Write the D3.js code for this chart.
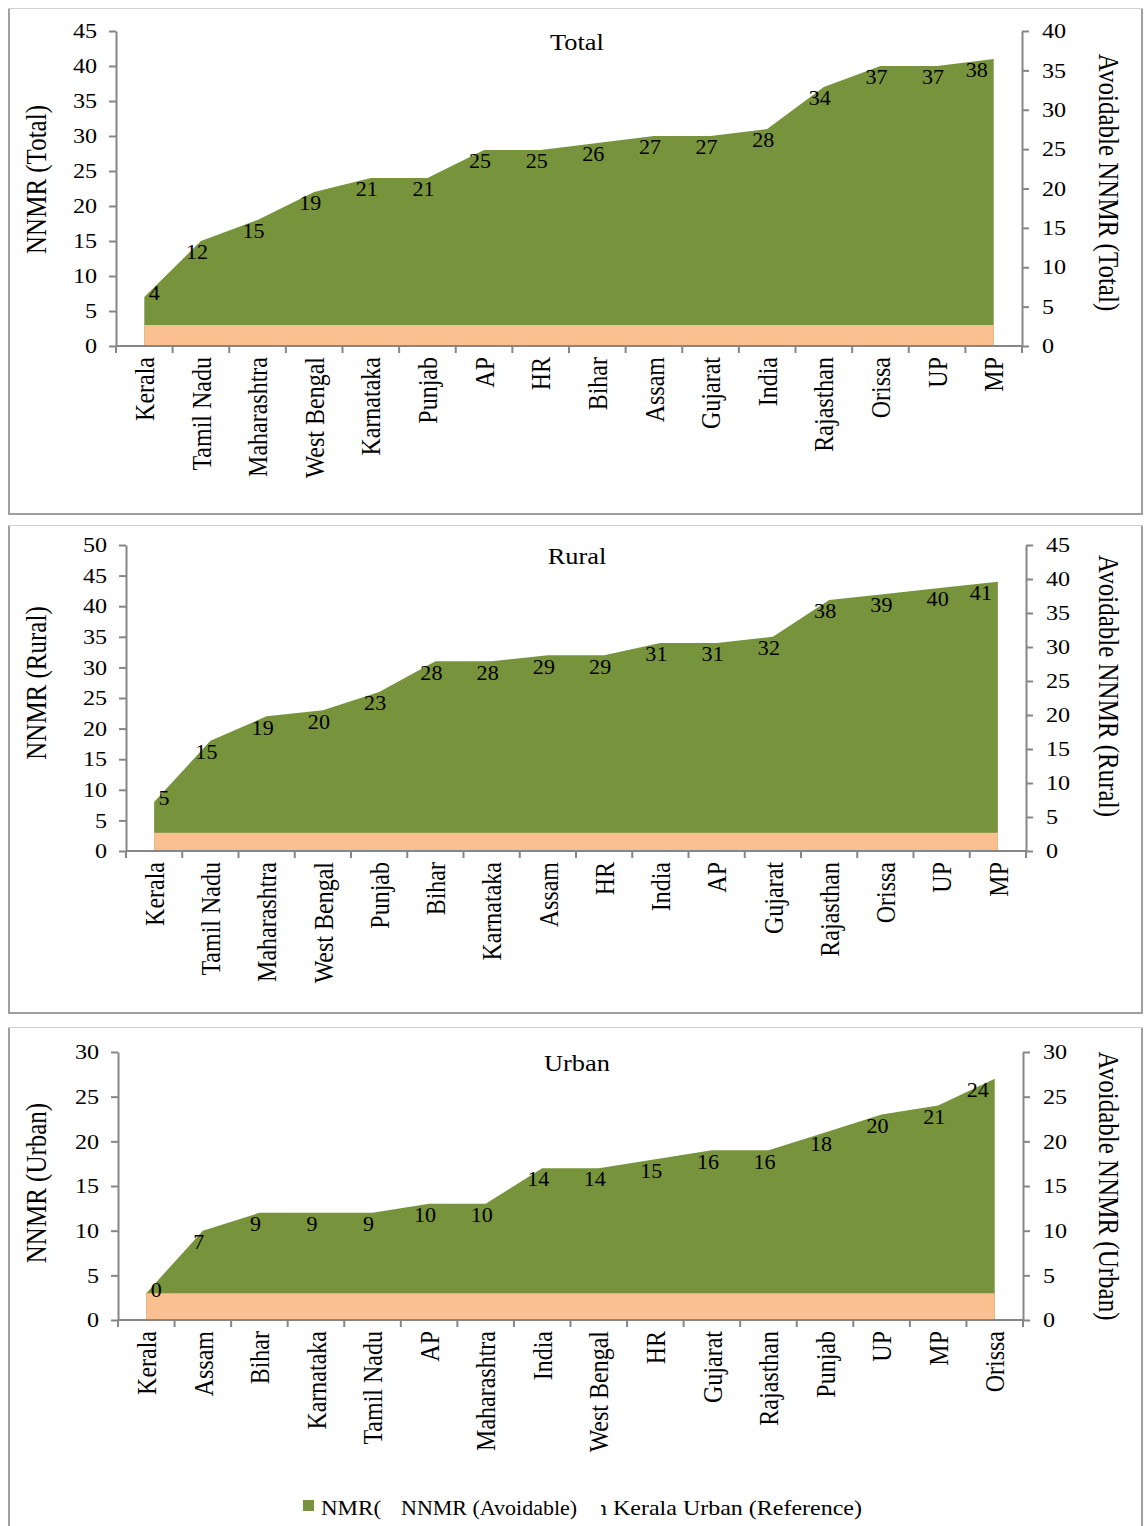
<!DOCTYPE html>
<html>
<head>
<meta charset="utf-8">
<script src="https://cdn.jsdelivr.net/npm/d3@7"></script>
<style>
  body { margin: 0; background: #fff; }
  text { font-family: "Liberation Serif", "Times New Roman", serif; fill: #000; }
</style>
</head>
<body>
<svg id="chart" width="1145" height="1526"></svg>
<script>
// Kerala urban neonatal mortality rate, used as the achievable reference level
const referenceNNMR = 3;

// Total
const totalStates = ["Kerala", "Tamil Nadu", "Maharashtra", "West Bengal", "Karnataka", "Punjab", "AP", "HR",
  "Bihar", "Assam", "Gujarat", "India", "Rajasthan", "Orissa", "UP", "MP"];
const totalAvoidable = [4, 12, 15, 19, 21, 21, 25, 25, 26, 27, 27, 28, 34, 37, 37, 38];

// Rural
const ruralStates = ["Kerala", "Tamil Nadu", "Maharashtra", "West Bengal", "Punjab", "Bihar", "Karnataka", "Assam",
  "HR", "India", "AP", "Gujarat", "Rajasthan", "Orissa", "UP", "MP"];
const ruralAvoidable = [5, 15, 19, 20, 23, 28, 28, 29, 29, 31, 31, 32, 38, 39, 40, 41];

// Urban
const urbanStates = ["Kerala", "Assam", "Bihar", "Karnataka", "Tamil Nadu", "AP", "Maharashtra", "India",
  "West Bengal", "HR", "Gujarat", "Rajasthan", "Punjab", "UP", "MP", "Orissa"];
const urbanAvoidable = [0, 7, 9, 9, 9, 10, 10, 14, 14, 15, 16, 16, 18, 20, 21, 24];

// Axis ranges
const totalLeftMax = 45, totalRightMax = 40;
const ruralLeftMax = 50, ruralRightMax = 45;
const urbanLeftMax = 30, urbanRightMax = 30;

const legendLabels = ["NMR(", "NNMR (Avoidable)", "NNMR in Kerala Urban (Reference)"];

const GREEN = "#77933C", PEACH = "#FAC090", AXIS = "#868686";
const SX = 1.15; // horizontal glyph stretch

const svg = d3.select("#chart");

function stretchedText(g, x, y, rot, txt, sx = SX) {
  return g.append("text")
    .attr("transform", `translate(${x},${y}) scale(${sx},1) rotate(${rot})`)
    .text(txt);
}

const panels = [
  { name: "Total", states: totalStates, avoid: totalAvoidable, lmax: totalLeftMax, rmax: totalRightMax,
    frame: [8, 8, 1134, 506], plot: { l: 116, r: 1022, t: 31, b: 346 }, titleShift: -9,
    leftTitle: "NNMR (Total)", rightTitle: "Avoidable NNMR (Total)" },
  { name: "Rural", states: ruralStates, avoid: ruralAvoidable, lmax: ruralLeftMax, rmax: ruralRightMax,
    frame: [8, 525, 1134, 488], plot: { l: 126, r: 1026, t: 545, b: 851 }, titleShift: -15,
    leftTitle: "NNMR (Rural)", rightTitle: "Avoidable NNMR (Rural)" },
  { name: "Urban", states: urbanStates, avoid: urbanAvoidable, lmax: urbanLeftMax, rmax: urbanRightMax,
    frame: [8, 1027, 1134, 520], plot: { l: 118, r: 1023, t: 1052, b: 1320 }, titleShift: -3,
    leftTitle: "NNMR (Urban)", rightTitle: "Avoidable NNMR (Urban)" }
];

panels.forEach(p => {
  const g = svg.append("g");
  const [fx, fy, fw, fh] = p.frame;
  // frame
  g.append("rect").attr("x", fx + 0.5).attr("y", fy + 0.5).attr("width", fw).attr("height", fh)
    .attr("fill", "#fff").attr("stroke", "#d0d0d0").attr("stroke-width", 1);
  g.append("path")
    .attr("d", `M${fx + 1},${fy + 1}V${fy + fh}H${fx + fw}V${fy + 1}`)
    .attr("fill", "none").attr("stroke", "#a0a0a0").attr("stroke-width", 2);

  const { l, r, t, b } = p.plot;
  const x = d3.scaleBand().domain(p.states).range([l, r]).padding(0);
  const yL = d3.scaleLinear().domain([0, p.lmax]).range([b, t]);
  const yR = d3.scaleLinear().domain([0, p.rmax]).range([b, t]);
  const cx = s => x(s) + x.bandwidth() / 2;

  const rows = p.states.map((s, i) => ({ state: s, avoid: p.avoid[i], nnmr: p.avoid[i] + referenceNNMR }));

  // NNMR area
  g.append("path").datum(rows)
    .attr("fill", GREEN)
    .attr("d", d3.area().x(d => cx(d.state)).y0(b).y1(d => yL(d.nnmr)));
  // reference area
  g.append("path").datum(rows)
    .attr("fill", PEACH)
    .attr("d", d3.area().x(d => cx(d.state)).y0(b).y1(() => yL(referenceNNMR)));

  // left axis
  const la = g.append("g").attr("transform", `translate(${l},0)`)
    .call(d3.axisLeft(yL).tickValues(d3.range(0, p.lmax + 1, 5)).tickSize(7).tickPadding(12).tickSizeOuter(0));
  // right axis
  const ra = g.append("g").attr("transform", `translate(${r},0)`)
    .call(d3.axisRight(yR).tickValues(d3.range(0, p.rmax + 1, 5)).tickSize(7).tickPadding(13).tickSizeOuter(0));
  [la, ra].forEach(a => {
    a.select(".domain").attr("stroke", AXIS).attr("stroke-width", 2);
    a.selectAll(".tick line").attr("stroke", AXIS).attr("stroke-width", 2);
    a.selectAll(".tick text").attr("font-size", 21).attr("fill", "#000")
      .attr("font-family", "Liberation Serif");
  });
  la.selectAll(".tick text").attr("transform", `scale(${SX},1)`).attr("x", -19 / SX);
  ra.selectAll(".tick text").attr("transform", `scale(${SX},1)`).attr("x", 20 / SX);

  // bottom axis line and boundary ticks
  g.append("line").attr("x1", l).attr("x2", r).attr("y1", b).attr("y2", b)
    .attr("stroke", AXIS).attr("stroke-width", 2);
  const bounds = p.states.map(s => x(s)).concat([r]);
  g.selectAll(".bt").data(bounds).enter().append("line")
    .attr("x1", d => d).attr("x2", d => d).attr("y1", b).attr("y2", b + 7)
    .attr("stroke", AXIS).attr("stroke-width", 2);

  // category labels
  p.states.forEach(s => {
    stretchedText(g, cx(s), b + 11, -90, s)
      .attr("font-size", 24).attr("text-anchor", "end").attr("dy", "0.35em");
  });

  // data labels (avoidable NNMR); the end labels are nudged inward
  const n = rows.length;
  rows.forEach((d, i) => {
    const dx = i === 0 ? 10 : (i === n - 1 ? -17 : -4);
    const dy = i === 0 ? -4 : 11;
    stretchedText(g, cx(d.state) + dx, yL(d.nnmr) + dy, 0, d.avoid, 1.05)
      .attr("font-size", 21).attr("text-anchor", "middle").attr("dy", "0.35em");
  });

  // title
  stretchedText(g, 577, t + 11, 0, p.name, 1.1)
    .attr("font-size", 24).attr("text-anchor", "middle").attr("dy", "0.35em");

  // axis titles
  const midY = (t + b) / 2 + p.titleShift;
  stretchedText(g, 36, midY, -90, p.leftTitle)
    .attr("font-size", 25).attr("text-anchor", "middle").attr("dy", "0.35em");
  stretchedText(g, 1109, midY + 3, 90, p.rightTitle)
    .attr("font-size", 25).attr("text-anchor", "middle").attr("dy", "0.35em");
});

// legend (entries overlap and are cut by the frame layout)
const lg = svg.append("g");
lg.append("rect").attr("x", 303).attr("y", 1500).attr("width", 11).attr("height", 11).attr("fill", GREEN);
stretchedText(lg, 321, 1515, 0, legendLabels[0]).attr("font-size", 20);
stretchedText(lg, 401, 1515, 0, legendLabels[1], 1.1).attr("font-size", 20);
svg.append("defs").append("clipPath").attr("id", "legclip")
  .append("rect").attr("x", 601).attr("y", 1480).attr("width", 400).attr("height", 46);
const clipped = lg.append("g").attr("clip-path", "url(#legclip)");
stretchedText(clipped, 862, 1515, 0, legendLabels[2], 1.2).attr("font-size", 20)
  .attr("text-anchor", "end");
</script>
</body>
</html>
